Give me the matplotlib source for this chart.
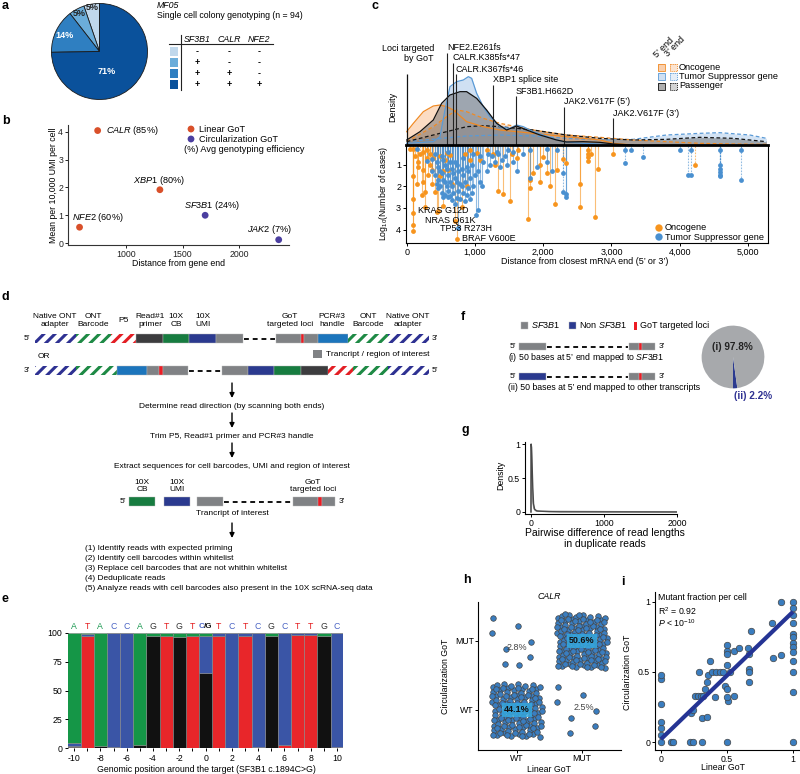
import numpy as np
import matplotlib
matplotlib.use('Agg')
import matplotlib.pyplot as plt
from matplotlib.patches import Rectangle

plt.rcParams.update({
    'font.family': ['Liberation Sans', 'DejaVu Sans'],
    'font.size': 6,
    'hatch.linewidth': 2.2,
    'mathtext.fontset': 'custom',
    'mathtext.rm': 'Liberation Sans',
    'mathtext.it': 'Liberation Sans:italic',
    'mathtext.bf': 'Liberation Sans:bold',
    'axes.linewidth': 0.8,
    'xtick.major.width': 0.7, 'ytick.major.width': 0.7,
    'xtick.major.size': 2, 'ytick.major.size': 2,
    'xtick.major.pad': 1.5, 'ytick.major.pad': 1.5,
})

# ------------------------------------------------------------------ data
# a
pie_a_labels = ['5%', '5%', '14%', '71%']
pie_a_values = [5, 5, 14, 71]
pie_a_colors = ['#c0d8ec', '#6badda', '#2f7fc1', '#0a519b']
table_genes = ['SF3B1', 'CALR', 'NFE2']
table_signs = [['-', '-', '-'], ['+', '-', '-'], ['+', '+', '-'], ['+', '+', '+']]

# b
b_genes = ['NFE2', 'CALR', 'XBP1', 'SF3B1', 'JAK2']
b_dist = [590, 750, 1300, 1700, 2350]
b_mean = [0.57, 4.05, 1.92, 1.0, 0.12]
b_eff = ['60%', '85%', '80%', '24%', '7%']
b_method = ['Linear', 'Linear', 'Linear', 'Circ', 'Circ']

# c  density curves (relative heights)
onc5_x = [0, 98, 244, 390, 488, 586, 683, 878, 1122, 1366, 1854, 2342, 2830, 3026, 3318]
onc5_y = [40, 65, 100, 117, 120, 115, 105, 70, 55, 45, 35, 25, 15, 5, 0]
onc3_x = [0, 390, 586, 732, 878, 1122, 1366, 1610, 1854, 2098, 2342, 2830, 3318, 3806, 4294, 4782, 5270]
onc3_y = [10, 55, 85, 105, 100, 80, 65, 55, 45, 37, 30, 23, 15, 10, 5, 3, 2]
tsg5_x = [0, 390, 488, 561, 634, 732, 830, 903, 952, 1025, 1122, 1220, 1366, 1513, 1610, 1708, 1854, 2098, 2294, 2586, 3026, 3318]
tsg5_y = [5, 10, 25, 105, 175, 190, 195, 205, 200, 155, 115, 85, 55, 50, 60, 55, 40, 23, 10, 5, 1, 0]
tsg3_x = [0, 878, 1366, 1854, 2342, 2830, 3318, 3806, 4294, 4587, 5026, 5270]
tsg3_y = [10, 27, 30, 27, 20, 15, 17, 30, 35, 37, 30, 20]
pas5_x = [0, 195, 390, 512, 634, 781, 878, 1025, 1171, 1318, 1464, 1610, 1757, 1952, 2196, 2342, 2586, 2830, 3026, 3318]
pas5_y = [15, 40, 75, 125, 150, 160, 160, 140, 105, 65, 45, 57, 45, 30, 15, 9, 10, 8, 3, 0]
pas3_x = [0, 390, 878, 1122, 1366, 1854, 2342, 2830, 3318, 3806, 4294, 4782, 5270]
pas3_y = [10, 30, 55, 58, 55, 45, 30, 20, 15, 17, 23, 20, 10]

loci_names = ['NFE2.E261fs', 'CALR.K385fs*47', 'CALR.K367fs*46', 'XBP1 splice site',
              'SF3B1.H662D', 'JAK2.V617F (5’)', 'JAK2.V617F (3’)']
loci_x = [595, 673, 722, 1268, 1595, 2308, 3025]

onc_x = [49, 98, 98, 98, 98, 98, 98, 171, 171, 195, 244, 244, 244, 268, 268, 293, 293, 341, 341, 366, 366,
         415, 439, 463, 488, 488, 527, 561, 610, 659, 707, 741, 805, 878, 927, 927, 1073, 1171, 1293, 1341,
         1415, 1512, 1537, 1610, 1634, 1780, 1805, 1805, 1854, 1951, 1951, 2000, 2049, 2098, 2171, 2195,
         2293, 2341, 2537, 2537, 2659, 2659, 2659, 2659, 2707, 2756, 2805, 3024, 4220,
         122, 146, 220, 317, 390, 537, 585, 634, 854, 1024, 1268]
onc_y = [0.3, 0.3, 1.55, 2.6, 3.25, 3.8, 4.05, 0.9, 1.1, 0.5, 0.4, 1.25, 1.8, 2.25, 2.95, 0.35, 0.7, 0.5, 1.0,
         1.25, 1.9, 2.25, 3.2, 3.15, 1.55, 0.6, 2.9, 0.8, 1.25, 1.9, 3.6, 4.45, 2.95, 2.0, 0.35, 0.8, 0.8, 0.35,
         1.0, 2.2, 2.35, 2.7, 0.5, 0.7, 0.35, 3.5, 2.1, 1.7, 1.4, 1.0, 1.8, 0.65, 1.4, 2.0, 2.8, 1.25, 0.75, 0.95,
         1.9, 2.95, 0.35, 0.5, 0.65, 0.85, 0.5, 3.4, 1.2, 0.5, 1.0,
         0.6, 1.9, 2.4, 1.5, 0.7, 1.3, 0.45, 0.55, 0.5, 0.45, 0.5]
onc_3p_x = [195, 293, 2659, 4220]
tsg_x = [146, 293, 366, 366, 415, 415, 463, 463, 463, 512, 512, 512, 561, 561, 561, 610, 610, 610, 610,
         659, 659, 659, 707, 707, 707, 756, 756, 756, 780, 780, 829, 829, 829, 878, 878, 927, 927, 976, 976,
         1015, 1049, 1049, 1098, 1171, 1244, 1293, 1341, 1390, 1463, 1561, 1561, 1610, 1707, 1805, 1805,
         1902, 2049, 2049, 2122, 2195, 2293, 2293, 2341, 2341, 3195, 3195, 3293, 3463, 4000, 4122, 4171,
         4171, 4585, 4585, 4585, 4585, 4585, 4585, 4902, 4902,
         440, 440, 488, 488, 537, 537, 537, 585, 585, 634, 634, 634, 683, 683, 732, 732, 732, 805, 805,
         854, 854, 903, 903, 951, 951, 1000, 1073, 1073, 1122, 1195, 1220, 1317, 1366, 1439, 1488]
tsg_y = [0.3, 0.85, 0.75, 1.3, 0.5, 1.5, 1.1, 1.7, 2.1, 0.6, 1.4, 2.3, 1.0, 1.8, 2.4, 0.4, 1.5, 2.2, 2.5,
         1.2, 2.0, 2.65, 0.9, 1.6, 2.8, 3.95, 1.3, 2.2, 1.9, 2.6, 0.7, 1.5, 2.3, 1.1, 2.4, 1.6, 2.6, 0.5, 2.0,
         3.35, 1.3, 3.1, 2.0, 1.3, 0.6, 0.9, 0.5, 0.8, 1.0, 0.4, 0.9, 1.3, 0.5, 0.35, 1.6,
         1.1, 0.3, 0.9, 1.3, 0.35, 1.4, 2.25, 2.35, 2.5, 0.35, 0.95, 0.35, 0.65, 0.35, 1.5, 0.35,
         1.5, 0.35, 1.0, 1.2, 1.35, 1.5, 1.55, 0.35, 1.72,
         0.9, 1.9, 1.3, 2.0, 0.8, 1.7, 2.5, 1.2, 2.0, 0.9, 1.8, 2.45, 1.4, 2.3, 1.0, 1.8, 2.55, 1.2, 2.0,
         1.8, 2.7, 1.3, 2.1, 1.0, 2.3, 1.5, 0.6, 1.8, 0.9, 0.5, 1.0, 0.4, 1.1, 0.6, 0.35]
tsg_3p_x = [2293, 3195, 3293, 3463, 4122, 4171, 4585, 4902]
hot_names = ['KRAS G12D', 'NRAS Q61K', 'TP53 R273H', 'BRAF V600E']
hot_x = [170, 268, 488, 805]
hot_y = [3.13, 3.56, 3.95, 4.41]

# e
e_pos = list(range(-10, 11))
e_ref = ['A', 'T', 'A', 'C', 'C', 'A', 'G', 'T', 'G', 'T', 'C/G', 'T', 'C', 'T', 'C', 'G', 'C', 'T', 'T', 'G', 'C']
e_T = [1, 97, 0.5, 0.5, 0.5, 0.5, 0.5, 97.5, 0.5, 97.5, 0.5, 97.5, 0, 97.5, 0.5, 0.5, 2.5, 98, 98, 0.5, 1]
e_G = [1, 0, 1.5, 1, 0, 2.5, 97, 0, 96, 0, 65, 0, 0, 0, 0.5, 96.5, 0, 0, 0, 96.5, 0]
e_C = [2.5, 2, 0, 98.5, 99.5, 0, 0, 0, 0, 0, 32, 2.5, 100, 2.5, 99, 0, 97.5, 2, 2, 0, 99]
e_A = [95.5, 1, 98, 0, 0, 97, 2.5, 2.5, 3.5, 2.5, 2.5, 0, 0, 0, 0, 3, 0, 0, 0, 3, 0]

# f
f_values = [2.2, 97.8]
f_labels = ['(ii) 2.2%', '(i) 97.8%']

# g
g1_x = [0, 2, 8, 15, 25, 35, 50, 80, 150, 250, 400, 2000]
g1_y = [0, 1.0, 0.95, 0.7, 0.35, 0.12, 0.04, 0.015, 0.01, 0.005, 0.002, 0.0]
g2_x = [0, 3, 8, 15, 25, 40, 60, 100, 2000]
g2_y = [0, 0.98, 0.8, 0.45, 0.15, 0.05, 0.02, 0.01, 0.0]

# h
h_lin = [0, 0, 1, 1]
h_circ = [0, 1, 0, 1]
h_n = [126, 8, 7, 145]
h_pct = ['44.1%', '2.8%', '2.5%', '50.6%']

# i
i_x = [0, 0, 0, 0, 0, 0, 0, 0.076, 0.09, 0.22, 0.245, 0.31, 0.5, 1.0,
       0.23, 0.24, 0.26, 0.28, 0.3, 0.31, 0.35,
       0.29, 0.32, 0.33, 0.35, 0.36, 0.37, 0.385, 0.41, 0.42, 0.45, 0.47, 0.485,
       0.5, 0.5, 0.5, 0.5, 0.5,
       0.51, 0.5, 0.52, 0.55, 0.55, 0.59, 0.66,
       0.67, 0.67, 0.67, 0.67,
       0.68, 0.84, 0.85, 0.91, 0.91,
       1, 1, 1, 1, 1, 1, 1, 1, 1, 1, 1, 1]
i_y = [0, 0.05, 0.1, 0.14, 0.27, 0.45, 0.48, 0, 0, 0, 0, 0, 0, 0,
       0.21, 0.23, 0.33, 0.33, 0.33, 0.17, 0.18,
       0.5, 0.33, 0.38, 0.43, 0.48, 0.58, 0.5, 0.32, 0.5, 0.5, 0.5, 0.4,
       0.38, 0.55, 0.69, 0.65, 0.63,
       0.29, 0.32, 0.5, 0.33, 0.65, 0.67, 0.67,
       0.63, 0.52, 0.5, 0.43,
       0.79, 0.85, 0.6, 0.62, 1,
       1, 0.96, 0.91, 0.85, 0.77, 0.75, 0.71, 0.68, 0.64, 0.58, 0.5, 0.36]
i_intercept = 0.02
i_slope = 0.91

# ------------------------------------------------------------------ figure
W, H = 800, 774
fig = plt.figure(figsize=(W / 100, H / 100), dpi=100)


def axpx(x0, y0, x1, y1, **kw):
    return fig.add_axes([x0 / W, 1 - y1 / H, (x1 - x0) / W, (y1 - y0) / H], **kw)


ov = fig.add_axes([0, 0, 1, 1], zorder=5)
ov.set_xlim(0, W)
ov.set_ylim(H, 0)
ov.axis('off')


def T(x, y, s, **kw):
    kw.setdefault('va', 'center')
    kw.setdefault('ha', 'left')
    return ov.text(x, y, s, **kw)


for lab, (x, y) in zip('abcdefghi', [(2, 6), (2, 121), (372, 6), (2, 297), (2, 599), (461, 317),
                                     (461, 430), (463, 580), (621, 582)]):
    T(x, y, lab, fontsize=9, fontweight='bold')

# ------------------------------------------------------------------ a
axa = axpx(50.5, 2.5, 148.5, 100.5)
axa.pie(pie_a_values, colors=pie_a_colors, startangle=90, counterclock=True,
        wedgeprops=dict(edgecolor='#1a1a1a', linewidth=0.6))
axa.set_xlim(-1.02, 1.02)
axa.set_ylim(-1.02, 1.02)
for s, (x, y), c in zip(pie_a_labels, [(92.5, 7.5), (79, 13), (65, 36), (107, 71)],
                        ['#222', '#222', 'white', 'white']):
    T(x, y, s, ha='center', fontsize=6.5, fontweight='bold', color=c)

T(157, 5, 'MF05', style='italic', fontsize=6.3)
T(157, 16, 'Single cell colony genotyping (n = 94)', fontsize=6.3)
for g, x in zip(table_genes, [197, 229, 259]):
    T(x, 39.5, g, ha='center', style='italic', fontsize=6.3)
ov.plot([169, 273], [43.5, 43.5], color='#222', lw=0.8)
ov.plot([180.5, 180.5], [35, 90], color='#222', lw=0.8)
for r, (row, c) in enumerate(zip(table_signs, pie_a_colors)):
    yc = 51.5 + r * 11
    ov.add_patch(Rectangle((169.5, yc - 4.3), 8.6, 8.6, facecolor=c, edgecolor='none'))
    for s, x in zip(row, [197, 229, 259]):
        T(x, yc, s, ha='center', fontsize=6.5, fontweight='bold')

# ------------------------------------------------------------------ b
axb = axpx(68, 125, 289, 245)
colb = {'Linear': '#d9502a', 'Circ': '#4b3fa0'}
axb.scatter(b_dist, b_mean, s=24, c=[colb[m] for m in b_method], zorder=3, linewidths=0)
axb.set_xlim(488, 2441)
axb.set_ylim(-0.07, 4.25)
axb.set_xticks([1000, 1500, 2000])
axb.set_yticks([0, 1, 2, 3, 4])
for sp in ['top', 'right']:
    axb.spines[sp].set_visible(False)
for sp in ['left', 'bottom']:
    axb.spines[sp].set_color('#333')
axb.tick_params(colors='#222', labelsize=6.3)
offs = {'NFE2': (18, 10, 'center'), 'CALR': (8, 0, 'left'), 'XBP1': (-1, 9, 'center'),
        'SF3B1': (7, 10, 'center'), 'JAK2': (-9, 10, 'center')}
for g, x, y, e in zip(b_genes, b_dist, b_mean, b_eff):
    dx, dy, ha = offs[g]
    axb.annotate(r'$\mathit{%s}$ (%s)' % (g, e), (x, y), xytext=(dx, dy),
                 textcoords='offset pixels', ha=ha, va='center', fontsize=6.6)
ov.scatter([191, 191], [129, 139], s=24, c=[colb['Linear'], colb['Circ']], linewidths=0)
T(199, 129, 'Linear GoT', fontsize=6.6)
T(199, 139, 'Circularization GoT', fontsize=6.6)
T(184, 149, '(%) Avg genotyping efficiency', fontsize=6.6)
T(53, 185, 'Mean per 10,000 UMI per cell', rotation=90, ha='center', fontsize=6.3)
T(178, 263, 'Distance from gene end', ha='center', fontsize=6.3)

# ------------------------------------------------------------------ c
XL = (-10, 5293)
dens = axpx(406, 40, 768, 145)
dens.set_xlim(*XL)
dens.set_ylim(0, 315)
dens.axis('off')
c_onc, c_tsg, c_pas = '#f08a24', '#5a9ad6', '#111111'
f_onc, f_tsg, f_pas = '#f5a86a', '#a9c8ea', '#6e6e6e'
dens.fill_between(tsg3_x, tsg3_y, color=f_tsg, alpha=0.5, lw=0)
dens.fill_between(onc3_x, onc3_y, color=f_onc, alpha=0.35, lw=0)
dens.fill_between(pas3_x, pas3_y, color=f_pas, alpha=0.5, lw=0)
dens.fill_between(onc5_x, onc5_y, color=f_onc, alpha=0.4, lw=0)
dens.fill_between(tsg5_x, tsg5_y, color=f_tsg, alpha=0.55, lw=0)
dens.fill_between(pas5_x, pas5_y, color=f_pas, alpha=0.5, lw=0)
dens.plot(tsg3_x, tsg3_y, color=c_tsg, lw=0.9, ls=(0, (3, 2)))
dens.plot(onc3_x, onc3_y, color=c_onc, lw=0.9, ls=(0, (3, 2)))
dens.plot(pas3_x, pas3_y, color=c_pas, lw=0.9, ls=(0, (3, 2)))
dens.plot(onc5_x, onc5_y, color=c_onc, lw=0.9)
dens.plot(tsg5_x, tsg5_y, color=c_tsg, lw=0.9)
dens.plot(pas5_x, pas5_y, color=c_pas, lw=0.9)
tops = [276, 246, 213, 180, 147, 114, 81]
dens.vlines(0, 0, 213, color='#111', lw=0.9)
for name, x, t in zip(loci_names, loci_x, tops):
    dens.vlines(x, 0, t, color='#222', lw=0.8)
    dens.text(x, t + 15, name, ha='left', va='center', fontsize=6.5)
T(434, 53.5, 'Loci targeted\nby GoT', ha='right', fontsize=6.5)
T(393, 107, 'Density', rotation=90, ha='center', fontsize=6.5)

lol = axpx(406, 145, 768, 243)
lol.set_xlim(*XL)
lol.set_ylim(4.62, 0.1)
for xs, ys, c, dots3 in [(onc_x, onc_y, '#f7941d', onc_3p_x), (tsg_x, tsg_y, '#4a90d0', tsg_3p_x)]:
    for x, y in zip(xs, ys):
        lol.vlines(x, 0, y, color=c, alpha=0.6, lw=0.8,
                   linestyles=(0, (1.5, 1.2)) if x in dots3 else 'solid')
    lol.scatter(xs, ys, s=12, color=c, linewidths=0, zorder=3)
for n, x, y in zip(hot_names, hot_x, hot_y):
    lol.text(x, y, n, fontsize=6.5, va='center', ha='left', zorder=4)
lol.set_yticks([1, 2, 3, 4])
lol.set_xticks([0, 1000, 2000, 3000, 4000, 5000])
lol.set_xticklabels(['0', '1,000', '2,000', '3,000', '4,000', '5,000'])
lol.tick_params(labelsize=6.5)
lol.spines['top'].set_linewidth(2.0)
T(383, 193, r'Log$_{10}$(Number of cases)', rotation=90, ha='center', fontsize=6.3)
T(585, 262, 'Distance from closest mRNA end (5’ or 3’)', ha='center', fontsize=6.5)
ov.scatter([659, 659], [228, 237], s=28, c=['#f7941d', '#4a90d0'], linewidths=0)
T(665, 228, 'Oncogene', fontsize=6.6)
T(665, 237, 'Tumor Suppressor gene', fontsize=6.6)

# density legend
for r, (lc, fc, nm) in enumerate([(c_onc, f_onc, 'Oncogene'), (c_tsg, f_tsg, 'Tumor Suppressor gene'),
                                  (c_pas, f_pas, 'Passenger')]):
    yc = 67 + r * 9.5
    ov.add_patch(Rectangle((657.5, yc - 3.5), 7, 7, facecolor=fc, alpha=0.55, edgecolor='none'))
    ov.add_patch(Rectangle((657.5, yc - 3.5), 7, 7, facecolor='none', edgecolor=lc, lw=0.6))
    ov.add_patch(Rectangle((670, yc - 3.5), 7, 7, facecolor=fc, alpha=0.3, edgecolor='none'))
    ov.add_patch(Rectangle((670, yc - 3.5), 7, 7, facecolor='none', edgecolor=lc, lw=0.6,
                           ls=(0, (1.5, 1))))
    T(679, yc, nm, fontsize=6.6)
T(658, 59, '5’ end', rotation=45, rotation_mode='anchor', ha='left', va='bottom', fontsize=6.5)
T(669, 58, '3’ end', rotation=45, rotation_mode='anchor', ha='left', va='bottom', fontsize=6.5)

# ------------------------------------------------------------------ d
navy, greenh, redh = '#2e3192', '#1e8a45', '#e31e24'
dark, green, umi, gray, pcr, red = '#3c3c3e', '#177c40', '#2b3a8f', '#808285', '#1c75bc', '#ed1c24'


def draw_row(segs, y0, h):
    for kind, c, a, b in segs:
        if kind == 'hatch':
            ov.add_patch(Rectangle((a, y0), b - a, h, facecolor='white', edgecolor=c, hatch='///', lw=0))
        elif kind == 'dash':
            ov.plot([a + 1, b - 1], [y0 + h / 2] * 2, color='#111', lw=1.4, ls=(0, (2.5, 2)))
        else:
            ov.add_patch(Rectangle((a, y0), b - a, h, facecolor=c, edgecolor='#b8b8b8', lw=0.3))


row1 = [('hatch', navy, 35, 76), ('hatch', greenh, 76, 111), ('hatch', redh, 111, 136),
        ('s', dark, 136, 163), ('s', green, 163, 189), ('s', umi, 189, 216), ('s', gray, 216, 243),
        ('dash', None, 243, 276), ('s', gray, 276, 301), ('s', red, 301, 304), ('s', gray, 304, 318),
        ('s', pcr, 318, 348), ('hatch', greenh, 348, 388), ('hatch', navy, 388, 429)]
row2 = [('hatch', navy, 35, 76), ('hatch', greenh, 76, 117), ('s', pcr, 117, 147), ('s', gray, 147, 159),
        ('s', red, 159, 163), ('s', gray, 163, 188), ('dash', None, 188, 222), ('s', gray, 222, 248),
        ('s', umi, 248, 274), ('s', green, 274, 301), ('s', dark, 301, 328), ('hatch', redh, 328, 353),
        ('hatch', greenh, 353, 388), ('hatch', navy, 388, 429)]
row3 = [('s', green, 129, 155), ('s', umi, 164, 190), ('s', gray, 197, 223), ('dash', None, 223, 293),
        ('s', gray, 293, 318), ('s', red, 318, 322), ('s', gray, 322, 335)]
draw_row(row1, 334, 9)
draw_row(row2, 366, 9)
draw_row(row3, 497, 9)
T(30, 338.5, '5’', ha='right')
T(432, 338.5, '3’')
T(30, 370.5, '3’', ha='right')
T(432, 370.5, '5’')
T(126, 501.5, '5’', ha='right')
T(339, 501.5, '3’')
for s, x in [('Native ONT\nadapter', 55), ('ONT\nBarcode', 93), ('Read#1\nprimer', 150), ('10X\nCB', 176),
             ('10X\nUMI', 203), ('GoT\ntargeted loci', 290), ('PCR#3\nhandle', 332), ('ONT\nBarcode', 368),
             ('Native ONT\nadapter', 408)]:
    T(x, 320.5, s, ha='center', linespacing=1.15)
T(124, 320.5, 'P5', ha='center')
T(38, 356, 'OR')
ov.add_patch(Rectangle((313, 349.5), 8.5, 8, facecolor=gray, edgecolor='none'))
T(326, 354, 'Trancript / region of interest')
for y0, y1 in [(383, 398), (413, 428), (443, 458), (523, 538)]:
    ov.annotate('', xy=(232, y1), xytext=(232, y0),
                arrowprops=dict(arrowstyle='-|>', color='black', lw=1.0, mutation_scale=7, shrinkA=0, shrinkB=0))
T(232, 406, 'Determine read direction (by scanning both ends)', ha='center')
T(232, 436, 'Trim P5, Read#1 primer and PCR#3 handle', ha='center')
T(232, 467, 'Extract sequences for cell barcodes, UMI and region of interest', ha='center')
T(142, 486, '10X\nCB', ha='center', linespacing=1.15)
T(177, 486, '10X\nUMI', ha='center', linespacing=1.15)
T(313, 486, 'GoT\ntargeted loci', ha='center', linespacing=1.15)
T(232, 513.5, 'Trancript of interest', ha='center')
steps = ['(1) Identify reads with expected priming', '(2) Identify cell barcodes within whitelist',
         '(3) Replace cell barcodes that are not whithin whitelist', '(4) Deduplicate reads',
         '(5) Analyze reads with cell barcodes also present in the 10X scRNA-seq data']
for k, s in enumerate(steps):
    T(85, 549 + 10 * k, s)

# ------------------------------------------------------------------ e
axe = axpx(68, 632.7, 343, 748.3)
base_cols = {'T': '#e8262a', 'G': '#111111', 'C': '#3a55a6', 'A': '#159647'}
bottom = np.zeros(len(e_pos))
for key, vals in [('T', e_T), ('G', e_G), ('C', e_C), ('A', e_A)]:
    axe.bar(e_pos, vals, bottom=bottom, width=1.0, color=base_cols[key], edgecolor='#888', linewidth=0.4)
    bottom += np.array(vals)
axe.set_xlim(-10.46, 10.45)
axe.set_ylim(0, 100)
axe.set_yticks([0, 25, 50, 75, 100])
axe.set_xticks(e_pos)
axe.set_xticklabels([str(p) if p % 2 == 0 else '' for p in e_pos])
for sp in axe.spines.values():
    sp.set_visible(False)
axe.tick_params(labelsize=6.3, length=2, pad=2)
let_cols = {'A': '#1a9850', 'T': '#e41a1c', 'C': '#4a64c4', 'G': '#333333'}
for p, r in zip(e_pos, e_ref):
    if '/' in r:
        axe.text(p - 0.11, 105.5, r[0], color=let_cols[r[0]], ha='right', va='center', fontsize=5.8,
                 fontweight='bold', clip_on=False)
        axe.text(p - 0.11, 105.5, '/' + r[2], color='#111', ha='left', va='center', fontsize=5.8,
                 fontweight='bold', clip_on=False)
    else:
        axe.text(p, 105.5, r, color=let_cols[r], ha='center', va='center', fontsize=6.3, clip_on=False)
T(206, 770, 'Genomic position around the target (SF3B1 c.1894C>G)', ha='center', fontsize=6.3)

# ------------------------------------------------------------------ f
ov.add_patch(Rectangle((521, 322), 7, 7, facecolor=gray, edgecolor='#bbb', lw=0.3))
T(531, 325.5, r'$\mathit{SF3B1}$', fontsize=6.5)
ov.add_patch(Rectangle((569, 322), 7, 7, facecolor=umi, edgecolor='#bbb', lw=0.3))
T(579, 325.5, r'Non $\mathit{SF3B1}$', fontsize=6.5)
ov.add_patch(Rectangle((634, 321.5), 3, 8, facecolor=red, edgecolor='none'))
T(640, 325.5, 'GoT targeted loci', fontsize=6.5)
for yc, c, cap in [(346.5, gray, r'(i) 50 bases at 5’ end mapped to $\mathit{SF3B1}$'),
                   (376.5, umi, '(ii) 50 bases at 5’ end mapped to other transcripts')]:
    draw_row([('s', c, 519, 546), ('dash', None, 546, 629), ('s', gray, 629, 639), ('s', red, 639, 642),
              ('s', gray, 642, 655)], yc - 3.7, 7.4)
    T(516.5, yc, '5’', ha='right')
    T(659, yc, '3’')
    T(508, yc + 10.5, cap, fontsize=6.3)
axf = axpx(701, 325, 765, 389)
axf.pie(f_values, colors=[umi, '#a7a9ac'], startangle=-90, counterclock=True)
axf.set_xlim(-1.02, 1.02)
axf.set_ylim(-1.02, 1.02)
T(732, 347, f_labels[1], ha='center', fontsize=7.2, fontweight='bold', color='#222')
T(753, 396, f_labels[0], ha='center', fontsize=7.2, fontweight='bold', color='#2e3192')

# ------------------------------------------------------------------ g
axg = axpx(525, 442, 677, 514)
axg.plot(g2_x, g2_y, color='#9a9a9a', lw=1.0)
axg.plot(g1_x, g1_y, color='#4a4a4a', lw=1.0)
axg.set_xlim(-82, 2000)
axg.set_ylim(-0.03, 1.03)
axg.set_xticks([0, 1000, 2000])
axg.set_yticks([0, 0.5, 1])
axg.set_yticklabels(['0', '0.5', '1'])
for sp in ['top', 'right']:
    axg.spines[sp].set_visible(False)
axg.tick_params(labelsize=6.3)
T(501, 475, 'Density', rotation=90, ha='center', fontsize=6.3)
T(605, 538.5, 'Pairwise difference of read lengths\nin duplicate reads', ha='center', fontsize=7.5,
  linespacing=1.2)

# ------------------------------------------------------------------ h
axh = axpx(478, 602, 621, 750)
phi1, phi2 = 0.7548776662466927, 0.5698402909980532
for cx, cy, n in zip(h_lin, h_circ, h_n):
    k = np.arange(1, n + 1)
    jx = ((0.5 + phi1 * k) % 1 - 0.5) * 0.78
    jy = ((0.5 + phi2 * k) % 1 - 0.5) * 0.78
    axh.scatter(cx + jx, cy + jy, s=16, facecolor='#3a7dbf', edgecolor='#444', linewidths=0.5, zorder=2)
for cx, cy, p in zip(h_lin, h_circ, h_pct):
    if cx == cy:
        axh.text(cx, cy, p, ha='center', va='center', fontsize=6.5, fontweight='bold', color='#111', zorder=4,
                 bbox=dict(boxstyle='square,pad=0.25', facecolor='#35a8df', edgecolor='none', alpha=0.85))
    else:
        axh.text(cx + (0.03 if cx else 0), cy - 0.09 if cy else cy + 0.03, p, ha='center', va='center',
                 fontsize=6.5, color='#444', zorder=4)
axh.set_xlim(-0.6, 1.6)
axh.set_ylim(-0.58, 1.565)
axh.set_xticks([0, 1])
axh.set_xticklabels(['WT', 'MUT'])
axh.set_yticks([0, 1])
axh.set_yticklabels(['WT', 'MUT'])
for sp in ['top', 'right']:
    axh.spines[sp].set_visible(False)
axh.tick_params(labelsize=6.3, pad=1)
axh.set_title('CALR', style='italic', fontsize=6.3, pad=2)
T(549, 769, 'Linear GoT', ha='center', fontsize=6.3)
T(446, 676, 'Circularization GoT', rotation=90, ha='center', fontsize=6.3)

# ------------------------------------------------------------------ i
axi = axpx(655, 592, 800, 750)
xx = np.array([0, 1])
axi.plot(xx, i_intercept + i_slope * xx, color='#253494', lw=3, zorder=3, solid_capstyle='butt')
axi.scatter(i_x, i_y, s=22, facecolor='#3a7dbf', edgecolor='#444', linewidths=0.5, zorder=2)
axi.set_xlim(-0.045, 1.053)
axi.set_ylim(-0.057, 1.071)
axi.set_xticks([0, 0.5, 1])
axi.set_xticklabels(['0', '0.5', '1'])
axi.set_yticks([0, 0.5, 1])
axi.set_yticklabels(['0', '0.5', '1'])
for sp in ['top', 'right']:
    axi.spines[sp].set_visible(False)
axi.tick_params(labelsize=6.3)
T(658, 598, 'Mutant fraction per cell', fontsize=6.3)
T(658, 611, r'R$^{2}$ = 0.92', fontsize=6.3)
T(658, 623, r'$\mathit{P}$ < 10$^{-10}$', fontsize=6.3)
T(723, 767, 'Linear GoT', ha='center', fontsize=6.3)
T(628, 672, 'Circularization GoT', rotation=90, ha='center', fontsize=6.3)

fig.savefig('out.png', dpi=100)
